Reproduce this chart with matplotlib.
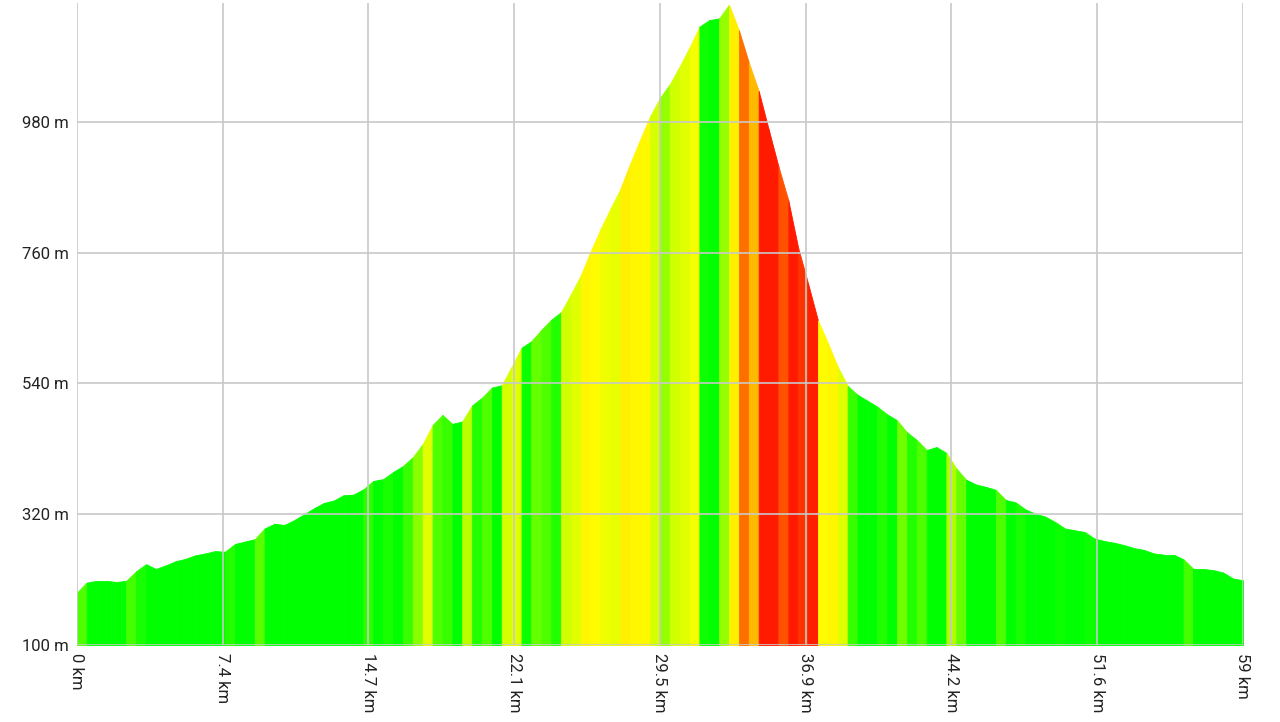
import numpy as np
import matplotlib
matplotlib.use("Agg")
import matplotlib.pyplot as plt
from matplotlib.colors import LinearSegmentedColormap

# distance (km) every 0.5 km and elevation (m)
distance_km = [i * 0.5 for i in range(119)]
elevation_m = [
    188, 205, 208, 208, 206, 208, 224, 236, 228, 234,
    241, 245, 251, 254, 258, 257, 270, 274, 278, 296,
    304, 302, 310, 320, 330, 339, 343, 352, 353, 362,
    376, 379, 391, 401, 416, 438, 470, 487, 472, 476,
    503, 516, 533, 537, 568, 600, 611, 630, 647, 660,
    690, 722, 762, 800, 834, 867, 910, 950, 989, 1020,
    1043, 1073, 1105, 1140, 1151, 1154, 1177, 1134, 1080, 1032,
    968, 905, 848, 768, 708, 646, 608, 568, 536, 521,
    511, 501, 488, 478, 458, 445, 428, 433, 423, 397,
    378, 370, 366, 361, 344, 340, 328, 321, 316, 307,
    296, 293, 290, 279, 275, 272, 268, 263, 260, 254,
    252, 252, 244, 228, 228, 226, 222, 212, 209,
]
xtick_pos = [0, 7.375, 14.75, 22.125, 29.5, 36.875, 44.25, 51.625, 59]
xtick_labels = ["0 km", "7.4 km", "14.7 km", "22.1 km", "29.5 km",
                "36.9 km", "44.2 km", "51.6 km", "59 km"]
ytick_pos = [100, 320, 540, 760, 980]
ytick_labels = ["100 m", "320 m", "540 m", "760 m", "980 m"]

dist = np.array(distance_km)
elev = np.array(elevation_m, dtype=float)
grade = np.abs(np.diff(elev)) / (np.diff(dist) * 1000) * 100  # percent

# green -> yellow -> red by gradient, full red at 12.5 %
cmap = LinearSegmentedColormap.from_list(
    "grade",
    [(0.0, "#00ff00"), (0.16, "#00ff00"), (0.4, "#aaff00"),
     (0.58, "#ffff00"), (0.7, "#ffee00"), (0.85, "#ff7a00"),
     (1.0, "#ff1a00")],
)
colors = cmap(np.clip(grade / 12.5, 0, 1))

fig = plt.figure(figsize=(12.8, 7.22), dpi=100)
ax = fig.add_axes([0.060, 0.1066, 0.911, 0.8894])

for i in range(len(dist) - 1):
    ax.fill_between(dist[i:i + 2], elev[i:i + 2], 100, color=colors[i],
                    linewidth=0.6, edgecolor=colors[i], zorder=1)

ax.set_xlim(0, 59)
ax.set_ylim(100, 1180)
ax.set_xticks(xtick_pos)
ax.set_xticklabels(xtick_labels, rotation=270, fontsize=12, family="Roboto")
ax.set_yticks(ytick_pos)
ax.set_yticklabels(ytick_labels, fontsize=12, family="Roboto")
ax.tick_params(length=0, pad=6, colors="#222222")
ax.grid(True, color="#c8c8c8", linewidth=1.2, zorder=3)
ax.set_axisbelow(False)
for s in ax.spines.values():
    s.set_visible(False)

fig.savefig("out.png", dpi=100)
